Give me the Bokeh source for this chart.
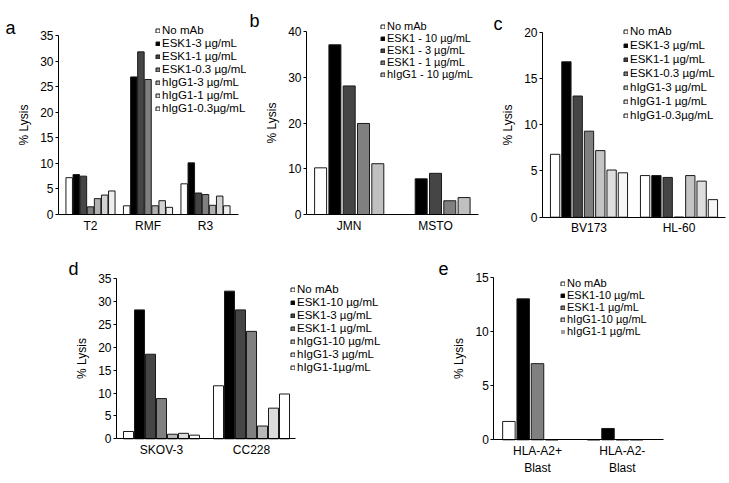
from bokeh.plotting import figure
from bokeh.models import (ColumnDataSource, Legend, LegendItem, Label, FixedTicker)
from bokeh.transform import dodge
from bokeh.layouts import row, column
from bokeh.embed import file_html
from bokeh.resources import INLINE

FONT = "Liberation Sans"

# ---------------- data ----------------
# panel a
a_cats = ["T2", "RMF", "R3"]
a_series = ["No mAb", "ESK1-3 µg/mL", "ESK1-1 µg/mL", "ESK1-0.3 µg/mL",
            "hIgG1-3 µg/mL", "hIgG1-1 µg/mL", "hIgG1-0.3µg/mL"]
a_vals = [[7.2, 1.7, 6.0], [7.8, 26.9, 10.1], [7.5, 31.8, 4.2], [1.5, 26.4, 3.9],
          [3.1, 1.7, 1.8], [3.8, 2.7, 3.6], [4.6, 1.4, 1.7]]
a_yticks = [0, 5, 10, 15, 20, 25, 30, 35]

# panel b
b_cats = ["JMN", "MSTO"]
b_series = ["No mAb", "ESK1 - 10 µg/mL", "ESK1 - 3 µg/mL", "ESK1 - 1 µg/mL",
            "hIgG1 - 10 µg/mL"]
b_vals = [[10.2, 0.0], [37.1, 7.8], [28.1, 9.0], [19.9, 3.0], [11.1, 3.7]]
b_yticks = [0, 10, 20, 30, 40]

# panel c
c_cats = ["BV173", "HL-60"]
c_series = ["No mAb", "ESK1-3 µg/mL", "ESK1-1 µg/mL", "ESK1-0.3 µg/mL",
            "hIgG1-3 µg/mL", "hIgG1-1 µg/mL", "hIgG1-0.3µg/mL"]
c_vals = [[6.8, 4.5], [16.8, 4.5], [13.1, 4.3], [9.3, 0.0],
          [7.2, 4.5], [5.1, 3.9], [4.8, 1.9]]
c_yticks = [0, 5, 10, 15, 20]

# panel d
d_cats = ["SKOV-3", "CC228"]
d_series = ["No mAb", "ESK1-10 µg/mL", "ESK1-3 µg/mL", "ESK1-1 µg/mL",
            "hIgG1-10 µg/mL", "hIgG1-3 µg/mL", "hIgG1-1µg/mL"]
d_vals = [[1.6, 11.6], [28.2, 32.3], [18.5, 28.2], [8.8, 23.5],
          [1.0, 2.8], [1.2, 6.7], [0.8, 9.8]]
d_yticks = [0, 5, 10, 15, 20, 25, 30, 35]

# panel e
e_cats = ["HLA-A2+\nBlast", "HLA-A2-\nBlast"]
e_series = ["No mAb", "ESK1-10 µg/mL", "ESK1-1 µg/mL", "hIgG1-10 µg/mL",
            "hIgG1-1 µg/mL"]
e_vals = [[1.7, 0.0], [13.05, 1.05], [7.05, 0.0], [0.0, 0.0], [0.0, 0.0]]
e_yticks = [0, 5, 10, 15]

# ---------------- styles ----------------
EDGE = "#1a1a1a"
a_fills = ["white", "black", "#454545", "#808080", "#b0b0b0", "#d2d2d2", "#eeeeee"]
b_fills = ["white", "black", "#454545", "#808080", "#c0c0c0"]
c_fills = ["white", "black", "#454545", "#808080", "#c4c4c4", "#dedede", "#f6f6f6"]
d_fills = ["white", "black", "#454545", "#808080", "#b8b8b8", "#dcdcdc", "white"]
e_fills = ["white", "black", "#808080", "#c8c8c8", "#a0a0a0"]
e_lines = [EDGE, EDGE, EDGE, EDGE, None]


def make_panel(letter, cats, series, vals, fills, lines, yticks, box, geo, bars,
               leg, let_xy):
    """box: figure (x0, y0, w, h) on the page.
    geo: (axis_x, axis_end_x, first_cat_x, cat_spacing, zero_y, top_y) in page px.
    bars: (step_px, width_px). leg: (square_x, first_row_y, font_px, spacing)."""
    fx0, fy0, W, H = box
    ax_x, ax_end, c0, cs, zero_y, top_y = geo
    ppu = (zero_y - top_y) / yticks[-1]

    def ux(px):
        return 0.5 + (px - c0) / cs

    x_start, x_end = ux(fx0), ux(fx0 + W)
    y_start, y_end = (zero_y - (fy0 + H)) / ppu, (zero_y - fy0) / ppu

    p = figure(width=W, height=H, x_range=(x_start, x_end), y_range=(y_start, y_end),
               output_backend="svg", toolbar_location=None, min_border=0)
    p.outline_line_color = None
    p.background_fill_color = "white"
    p.border_fill_color = "white"
    p.xgrid.visible = False
    p.ygrid.visible = False

    pos = [i + 0.5 for i in range(len(cats))]
    n = len(series)
    step, bw = bars[0] / cs, bars[1] / cs
    items = []
    for i in range(n):
        src = ColumnDataSource(dict(pos=pos, val=vals[i]))
        r = p.vbar(x=dodge("pos", (i - (n - 1) / 2) * step), top="val", bottom=0,
                   width=bw, source=src, fill_color=fills[i], line_color=lines[i],
                   line_width=1)
        items.append(LegendItem(label=series[i], renderers=[r]))

    sq_x, first_y, fsize, spc = leg
    row_h = fsize * 1.114
    leg_bottom = first_y - row_h / 2 + n * row_h + (n - 1) * spc
    legend = Legend(items=items, location=(sq_x - fx0, fy0 + H - leg_bottom),
                    padding=0, margin=0, spacing=spc, glyph_width=5, glyph_height=5,
                    label_height=6, label_standoff=2,
                    label_text_font=FONT, label_text_font_size=f"{fsize}px",
                    label_text_color="black",
                    border_line_color=None, background_fill_alpha=0)
    p.add_layout(legend)

    # x axis
    xa = p.xaxis[0]
    xa.fixed_location = 0
    xa.bounds = (ux(ax_x), ux(ax_end))
    xa.ticker = FixedTicker(ticks=pos)
    xa.major_label_overrides = {pv: c for pv, c in zip(pos, cats)}
    xa.axis_line_color = "black"
    xa.major_tick_line_color = None
    xa.minor_tick_line_color = None
    xa.major_tick_out = 0
    xa.major_label_standoff = 4
    xa.major_label_text_font = FONT
    xa.major_label_text_font_size = "12px"
    xa.major_label_text_color = "black"

    # y axis
    ya = p.yaxis[0]
    ya.fixed_location = ux(ax_x)
    ya.bounds = (0, yticks[-1])
    ya.ticker = FixedTicker(ticks=yticks)
    ya.axis_line_color = "black"
    ya.major_tick_line_color = "black"
    ya.minor_tick_line_color = None
    ya.major_tick_out = 3
    ya.major_tick_in = 0
    ya.major_label_standoff = 2
    ya.major_label_text_font = FONT
    ya.major_label_text_font_size = "12px"
    ya.major_label_text_color = "black"
    ya.axis_label = "% Lysis"
    ya.axis_label_text_font = FONT
    ya.axis_label_text_font_size = "12px"
    ya.axis_label_text_font_style = "normal"
    ya.axis_label_text_color = "black"
    ya.axis_label_standoff = 6

    p.add_layout(Label(x=let_xy[0] - fx0, y=fy0 + H - let_xy[1],
                       x_units="screen", y_units="screen",
                       text=letter, text_font=FONT, text_font_size="18px",
                       text_color="black", text_align="left",
                       text_baseline="alphabetic"))
    return p


pa = make_panel("a", a_cats, a_series, a_vals, a_fills, [EDGE] * 7, a_yticks,
                (0, 0, 246, 240), (58, 238, 90, 57.5, 214, 35), (7.1, 6.5),
                (155, 25, 11.5, 1), (5, 27))
pb = make_panel("b", b_cats, b_series, b_vals, b_fills, [EDGE] * 5, b_yticks,
                (246, 0, 236, 240), (306, 478, 348.7, 86.3, 214, 31), (14.3, 12),
                (380, 25, 11, 0), (249, 20))
pc = make_panel("c", c_cats, c_series, c_vals, c_fills, [EDGE] * 7, c_yticks,
                (482, 0, 246, 240), (542, 725, 588.5, 90, 216.7, 31.7), (11.3, 9.3),
                (623, 26, 11.5, 2), (493, 23))
pd = make_panel("d", d_cats, d_series, d_vals, d_fills, [EDGE] * 7, d_yticks,
                (0, 240, 400, 242), (116, 295, 161, 90, 438.3, 278.3), (11, 10),
                (290, 284, 11.5, 1), (68, 268))
pe = make_panel("e", e_cats, e_series, e_vals, e_fills, e_lines, e_yticks,
                (400, 240, 328, 242), (493.3, 663, 537, 84.8, 439.3, 277.3),
                (14.3, 12.5), (560, 282, 11, 0), (438, 268))

layout = column(row(pa, pb, pc), row(pd, pe))
open("out.html", "w").write(file_html(layout, INLINE))
